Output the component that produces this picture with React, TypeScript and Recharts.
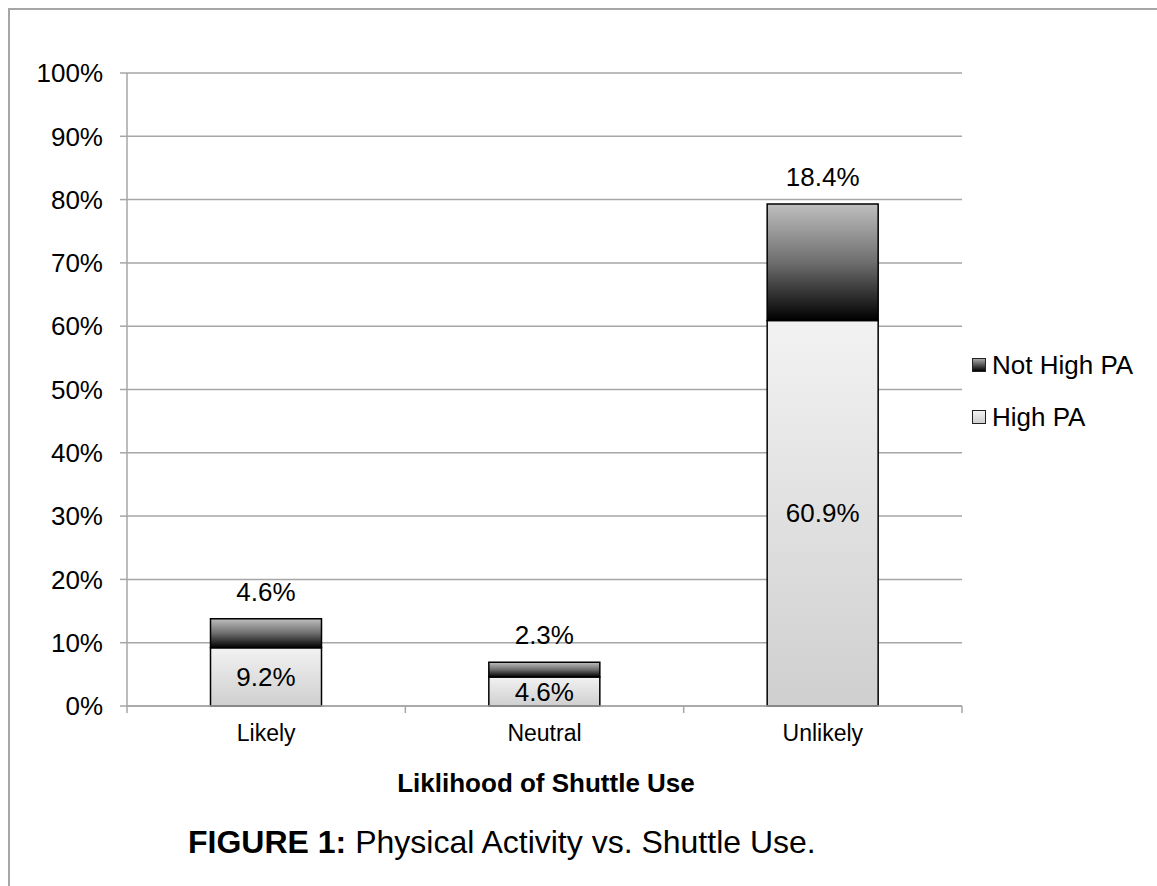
import { BarChart, Bar, XAxis, YAxis, CartesianGrid, Legend, LabelList } from "recharts";

const categories = ["Likely", "Neutral", "Unlikely"];
const highPA = [9.2, 4.6, 60.9];
const notHighPA = [4.6, 2.3, 18.4];
const yTicks = [0, 10, 20, 30, 40, 50, 60, 70, 80, 90, 100];

const data = categories.map((c, i) => ({
  category: c,
  high: highPA[i],
  notHigh: notHighPA[i],
}));

const FONT = '"Liberation Sans", Arial, Helvetica, sans-serif';
const GRID = "#a6a6a6";

function CategoryTick(props: any) {
  const { x, y, payload, index, width, visibleTicksCount } = props;
  const count = visibleTicksCount || categories.length;
  const band = (width || 835) / count;
  const left = x - band / 2;
  const right = x + band / 2;
  return (
    <g>
      <line x1={left} x2={left} y1={y} y2={y + 7} stroke={GRID} strokeWidth={1.5} />
      {index === count - 1 && (
        <line x1={right} x2={right} y1={y} y2={y + 7} stroke={GRID} strokeWidth={1.5} />
      )}
      <text x={x} y={y + 35} textAnchor="middle" fontSize={23} fill="#000" fontFamily={FONT}>
        {payload.value}
      </text>
    </g>
  );
}

function LegendContent() {
  const items = [
    { name: "Not High PA", bg: "linear-gradient(#a8a8a8, #000)" },
    { name: "High PA", bg: "linear-gradient(#f2f2f2, #cfcfcf)" },
  ];
  return (
    <div style={{ fontFamily: FONT, fontSize: 26, color: "#000" }}>
      {items.map((it) => (
        <div key={it.name} style={{ height: 52, display: "flex", alignItems: "center" }}>
          <span
            style={{
              width: 12,
              height: 12,
              border: "1.5px solid #222",
              background: it.bg,
              marginRight: 6,
              display: "inline-block",
            }}
          />
          <span>{it.name}</span>
        </div>
      ))}
    </div>
  );
}

export default function App() {
  return (
    <div
      style={{
        position: "absolute",
        left: 8,
        top: 8,
        width: 1147,
        height: 876,
        borderTop: `2px solid ${GRID}`,
        borderLeft: `2px solid ${GRID}`,
        background: "#fff",
        fontFamily: FONT,
      }}
    >
      <BarChart
        width={1147}
        height={876}
        data={data}
        margin={{ top: 63, right: 195, left: 37, bottom: 140 }}
        barCategoryGap="30%"
      >
        <defs>
          <linearGradient id="gradNotHigh" x1="0" y1="0" x2="0" y2="1">
            <stop offset="0%" stopColor="#bfbfbf" />
            <stop offset="50%" stopColor="#6e6e6e" />
            <stop offset="100%" stopColor="#000000" />
          </linearGradient>
          <linearGradient id="gradHigh" x1="0" y1="0" x2="0" y2="1">
            <stop offset="0%" stopColor="#f2f2f2" />
            <stop offset="100%" stopColor="#cfcfcf" />
          </linearGradient>
        </defs>
        <CartesianGrid vertical={false} stroke={GRID} strokeWidth={1.5} />
        <XAxis
          dataKey="category"
          height={40}
          axisLine={{ stroke: GRID, strokeWidth: 1.5 }}
          tickLine={false}
          tickSize={0}
          tickMargin={0}
          tick={<CategoryTick />}
          interval={0}
        />
        <YAxis
          width={80}
          domain={[0, 100]}
          ticks={yTicks}
          tickFormatter={(v) => `${v}%`}
          axisLine={{ stroke: GRID, strokeWidth: 1.5 }}
          tickLine={{ stroke: GRID, strokeWidth: 1.5 }}
          tickSize={7}
          tickMargin={17}
          tick={{ fontSize: 26, fill: "#000", fontFamily: FONT }}
        />
        <Legend
          layout="vertical"
          align="center"
          verticalAlign="middle"
          content={<LegendContent />}
          wrapperStyle={{ left: 962, top: 329, width: 190 }}
        />
        <Bar
          dataKey="high"
          name="High PA"
          stackId="a"
          fill="url(#gradHigh)"
          stroke="#000"
          strokeWidth={1.5}
          isAnimationActive={false}
        >
          <LabelList
            dataKey="high"
            position="center"
            formatter={(v: any) => `${v}%`}
            style={{ fontSize: 26, fill: "#000", fontFamily: FONT }}
          />
        </Bar>
        <Bar
          dataKey="notHigh"
          name="Not High PA"
          stackId="a"
          fill="url(#gradNotHigh)"
          stroke="#000"
          strokeWidth={1.5}
          isAnimationActive={false}
        >
          <LabelList
            dataKey="notHigh"
            position="top"
            offset={18}
            formatter={(v: any) => `${v}%`}
            style={{ fontSize: 26, fill: "#000", fontFamily: FONT }}
          />
        </Bar>
      </BarChart>
      <div
        style={{
          position: "absolute",
          left: 236,
          top: 760,
          width: 600,
          textAlign: "center",
          fontSize: 26,
          lineHeight: 1,
          fontWeight: "bold",
          color: "#000",
        }}
      >
        Liklihood of Shuttle Use
      </div>
      <div
        style={{
          position: "absolute",
          left: 178,
          top: 816,
          fontSize: 32,
          lineHeight: 1,
          color: "#000",
          whiteSpace: "nowrap",
        }}
      >
        <b>FIGURE 1:</b> Physical Activity vs. Shuttle Use.
      </div>
    </div>
  );
}
